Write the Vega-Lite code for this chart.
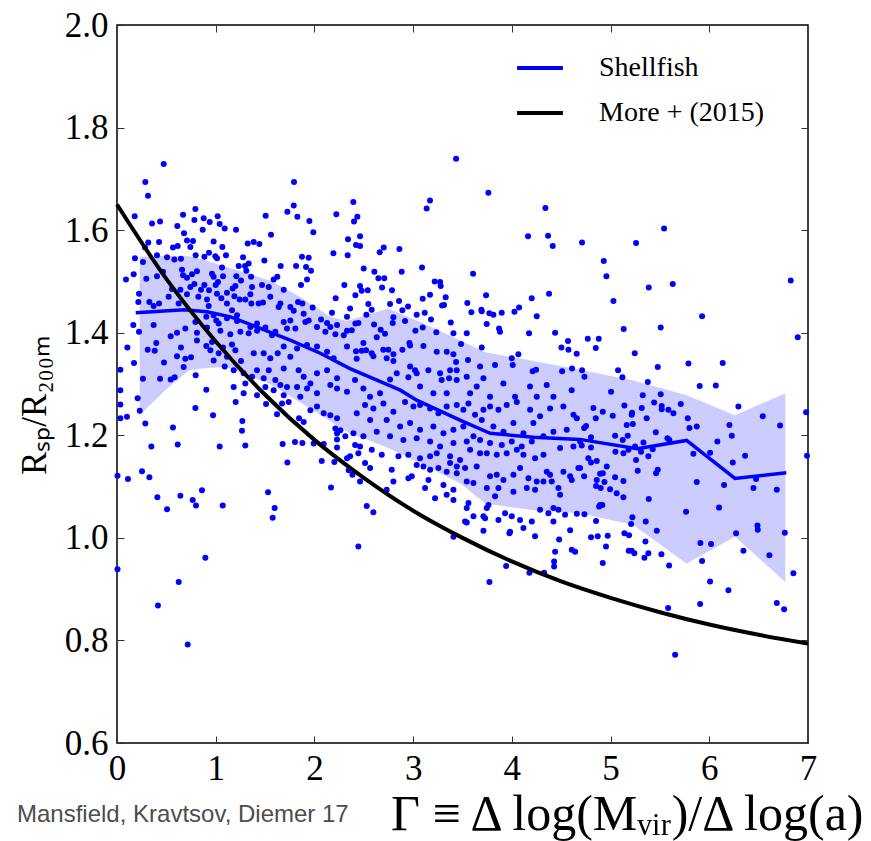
{
"$schema": "https://vega.github.io/schema/vega-lite/v6.json",
"width": 691, "height": 718,
"autosize": {"type": "none"},
"padding": {"left": 117, "top": 25, "right": 63, "bottom": 98},
"background": "white",
"config": {
  "view": {"stroke": "black", "strokeWidth": 1.5},
  "font": "Liberation Serif",
  "axis": {"grid": false, "domain": false, "tickColor": "#333", "tickWidth": 1, "tickSize": -7, "labelFlush": false, "labelFont": "Liberation Serif", "labelFontSize": 35, "labelColor": "black", "titleColor": "black", "titleFont": "Liberation Serif", "titleFontWeight": "normal"}
},
"title": {"text": "Mansfield, Kravtsov, Diemer 17", "orient": "bottom", "anchor": "start", "frame": "bounds", "font": "Liberation Sans", "fontSize": 24, "fontWeight": "normal", "color": "#4d4d4d", "offset": -36},
"datasets": {
"band": [{"g":0.23,"lo":1.239,"hi":1.548},{"g":0.5,"lo":1.29,"hi":1.55},{"g":0.73,"lo":1.327,"hi":1.549},{"g":0.9,"lo":1.331,"hi":1.541},{"g":1.11,"lo":1.333,"hi":1.528},{"g":1.55,"lo":1.3,"hi":1.502},{"g":1.85,"lo":1.265,"hi":1.47},{"g":2.16,"lo":1.228,"hi":1.431},{"g":2.33,"lo":1.207,"hi":1.423},{"g":2.75,"lo":1.175,"hi":1.447},{"g":3.14,"lo":1.139,"hi":1.415},{"g":3.48,"lo":1.106,"hi":1.385},{"g":3.73,"lo":1.067,"hi":1.362},{"g":4.22,"lo":1.054,"hi":1.345},{"g":4.69,"lo":1.048,"hi":1.328},{"g":5.23,"lo":1.025,"hi":1.307},{"g":5.77,"lo":0.95,"hi":1.278},{"g":6.26,"lo":1.002,"hi":1.239},{"g":6.77,"lo":0.914,"hi":1.282}],
"med": [{"g":0.19,"r":1.439,"s":"Shellfish"},{"g":0.68,"r":1.445,"s":"Shellfish"},{"g":0.91,"r":1.441,"s":"Shellfish"},{"g":1.15,"r":1.431,"s":"Shellfish"},{"g":1.42,"r":1.411,"s":"Shellfish"},{"g":1.76,"r":1.385,"s":"Shellfish"},{"g":2.06,"r":1.36,"s":"Shellfish"},{"g":2.36,"r":1.33,"s":"Shellfish"},{"g":2.87,"r":1.288,"s":"Shellfish"},{"g":3.04,"r":1.268,"s":"Shellfish"},{"g":3.48,"r":1.229,"s":"Shellfish"},{"g":3.78,"r":1.204,"s":"Shellfish"},{"g":4.22,"r":1.196,"s":"Shellfish"},{"g":4.69,"r":1.192,"s":"Shellfish"},{"g":5.27,"r":1.174,"s":"Shellfish"},{"g":5.77,"r":1.19,"s":"Shellfish"},{"g":6.26,"r":1.116,"s":"Shellfish"},{"g":6.78,"r":1.127,"s":"Shellfish"}],
"more": [{"g":0,"r":1.65,"s":"More +  (2015)"},{"g":0.5,"r":1.505,"s":"More +  (2015)"},{"g":1,"r":1.383,"s":"More +  (2015)"},{"g":1.5,"r":1.279,"s":"More +  (2015)"},{"g":2,"r":1.191,"s":"More +  (2015)"},{"g":2.5,"r":1.117,"s":"More +  (2015)"},{"g":3,"r":1.053,"s":"More +  (2015)"},{"g":3.5,"r":1.0,"s":"More +  (2015)"},{"g":4,"r":0.954,"s":"More +  (2015)"},{"g":4.5,"r":0.915,"s":"More +  (2015)"},{"g":5,"r":0.883,"s":"More +  (2015)"},{"g":5.5,"r":0.855,"s":"More +  (2015)"},{"g":6,"r":0.831,"s":"More +  (2015)"},{"g":6.5,"r":0.811,"s":"More +  (2015)"},{"g":7,"r":0.794,"s":"More +  (2015)"}],
"pts": [
{"g":0.473,"r":1.729},{"g":0.287,"r":1.694},{"g":0.314,"r":1.667},{"g":1.793,"r":1.694},{"g":1.79,"r":1.648},{"g":1.726,"r":1.636},{"g":1.827,"r":1.626},{"g":0.179,"r":1.627},{"g":0.355,"r":1.613},{"g":0.436,"r":1.617},{"g":0.669,"r":1.63},{"g":0.794,"r":1.641},{"g":0.784,"r":1.62},{"g":0.878,"r":1.623},{"g":0.939,"r":1.616},{"g":1.02,"r":1.627},{"g":1.04,"r":1.612},{"g":1.091,"r":1.603},{"g":0.868,"r":1.601},{"g":0.611,"r":1.608},{"g":0.679,"r":1.594},{"g":0.709,"r":1.58},{"g":0.77,"r":1.579},{"g":0.743,"r":1.567},{"g":0.567,"r":1.566},{"g":0.615,"r":1.569},{"g":0.426,"r":1.577},{"g":0.317,"r":1.576},{"g":0.284,"r":1.566},{"g":1.206,"r":1.601},{"g":0.979,"r":1.578},{"g":1.067,"r":1.567},{"g":1.506,"r":1.628},{"g":1.56,"r":1.591},{"g":1.949,"r":1.618},{"g":1.989,"r":1.596},{"g":2.222,"r":1.631},{"g":2.34,"r":1.582},{"g":2.337,"r":1.551},{"g":2.192,"r":1.555},{"g":1.324,"r":1.574},{"g":1.385,"r":1.577},{"g":1.442,"r":1.573},{"g":1.493,"r":1.541},{"g":0.182,"r":1.545},{"g":0.263,"r":1.538},{"g":0.405,"r":1.551},{"g":0.507,"r":1.547},{"g":0.581,"r":1.543},{"g":0.648,"r":1.544},{"g":0.797,"r":1.551},{"g":0.885,"r":1.548},{"g":0.932,"r":1.556},{"g":0.996,"r":1.549},{"g":1.013,"r":1.545},{"g":1.104,"r":1.551},{"g":1.277,"r":1.547},{"g":1.233,"r":1.53},{"g":1.297,"r":1.53},{"g":1.334,"r":1.535},{"g":1.31,"r":1.521},{"g":1.209,"r":1.51},{"g":1.358,"r":1.509},{"g":1.256,"r":1.502},{"g":1.587,"r":1.504},{"g":1.624,"r":1.509},{"g":1.658,"r":1.53},{"g":1.874,"r":1.548},{"g":1.942,"r":1.546},{"g":1.814,"r":1.53},{"g":1.915,"r":1.528},{"g":1.965,"r":1.521},{"g":1.864,"r":1.493},{"g":1.925,"r":1.504},{"g":2.303,"r":1.493},{"g":2.215,"r":1.467},{"g":2.178,"r":1.439},{"g":0.169,"r":1.514},{"g":0.091,"r":1.504},{"g":0.297,"r":1.505},{"g":0.405,"r":1.51},{"g":0.466,"r":1.519},{"g":0.659,"r":1.523},{"g":0.81,"r":1.52},{"g":0.669,"r":1.512},{"g":0.709,"r":1.507},{"g":0.76,"r":1.514},{"g":0.784,"r":1.495},{"g":0.743,"r":1.489},{"g":0.885,"r":1.493},{"g":0.962,"r":1.515},{"g":0.979,"r":1.509},{"g":1.064,"r":1.527},{"g":1.074,"r":1.51},{"g":1.023,"r":1.499},{"g":1.0,"r":1.493},{"g":1.199,"r":1.491},{"g":1.114,"r":1.478},{"g":1.172,"r":1.486},{"g":0.223,"r":1.476},{"g":0.216,"r":1.46},{"g":0.328,"r":1.46},{"g":0.371,"r":1.452},{"g":0.426,"r":1.457},{"g":0.523,"r":1.47},{"g":0.625,"r":1.457},{"g":0.557,"r":1.485},{"g":0.642,"r":1.484},{"g":0.709,"r":1.475},{"g":0.824,"r":1.47},{"g":0.851,"r":1.484},{"g":0.932,"r":1.483},{"g":0.912,"r":1.465},{"g":0.929,"r":1.452},{"g":1.013,"r":1.476},{"g":1.057,"r":1.467},{"g":1.114,"r":1.457},{"g":1.189,"r":1.471},{"g":1.243,"r":1.465},{"g":1.3,"r":1.465},{"g":1.351,"r":1.475},{"g":1.368,"r":1.489},{"g":1.469,"r":1.493},{"g":1.537,"r":1.489},{"g":1.553,"r":1.47},{"g":1.479,"r":1.459},{"g":1.435,"r":1.457},{"g":1.361,"r":1.457},{"g":1.689,"r":1.484},{"g":1.655,"r":1.457},{"g":1.638,"r":1.45},{"g":1.756,"r":1.45},{"g":1.834,"r":1.46},{"g":1.878,"r":1.457},{"g":1.79,"r":1.443},{"g":1.982,"r":1.449},{"g":1.891,"r":1.437},{"g":2.067,"r":1.426},{"g":2.128,"r":1.419},{"g":2.229,"r":1.415},{"g":2.33,"r":1.431},{"g":2.33,"r":1.404},{"g":0.165,"r":1.415},{"g":0.223,"r":1.402},{"g":0.371,"r":1.415},{"g":0.544,"r":1.393},{"g":0.608,"r":1.4},{"g":0.692,"r":1.408},{"g":0.794,"r":1.421},{"g":0.81,"r":1.4},{"g":0.905,"r":1.431},{"g":0.912,"r":1.41},{"g":1.006,"r":1.424},{"g":0.979,"r":1.434},{"g":1.03,"r":1.418},{"g":1.165,"r":1.444},{"g":1.216,"r":1.434},{"g":1.216,"r":1.423},{"g":1.114,"r":1.428},{"g":1.047,"r":1.404},{"g":1.148,"r":1.397},{"g":1.25,"r":1.402},{"g":1.351,"r":1.411},{"g":1.418,"r":1.418},{"g":1.334,"r":1.399},{"g":1.418,"r":1.404},{"g":1.503,"r":1.41},{"g":1.57,"r":1.395},{"g":1.604,"r":1.402},{"g":1.689,"r":1.421},{"g":1.722,"r":1.408},{"g":1.756,"r":1.424},{"g":1.807,"r":1.408},{"g":1.908,"r":1.421},{"g":1.942,"r":1.424},{"g":2.026,"r":1.411},{"g":2.111,"r":1.402},{"g":2.161,"r":1.411},{"g":2.212,"r":1.397},{"g":2.297,"r":1.395},{"g":0.105,"r":1.371},{"g":0.311,"r":1.367},{"g":0.382,"r":1.365},{"g":0.398,"r":1.38},{"g":0.476,"r":1.342},{"g":0.608,"r":1.354},{"g":0.648,"r":1.371},{"g":0.692,"r":1.349},{"g":0.75,"r":1.352},{"g":0.675,"r":1.333},{"g":0.81,"r":1.385},{"g":0.962,"r":1.382},{"g":0.905,"r":1.374},{"g":0.946,"r":1.366},{"g":1.03,"r":1.36},{"g":1.074,"r":1.371},{"g":1.165,"r":1.377},{"g":1.199,"r":1.366},{"g":1.114,"r":1.353},{"g":1.256,"r":1.345},{"g":1.385,"r":1.36},{"g":1.486,"r":1.36},{"g":1.553,"r":1.35},{"g":1.628,"r":1.36},{"g":1.689,"r":1.373},{"g":1.756,"r":1.353},{"g":1.824,"r":1.369},{"g":1.925,"r":1.376},{"g":2.026,"r":1.373},{"g":2.128,"r":1.363},{"g":2.195,"r":1.35},{"g":2.33,"r":1.373},{"g":0.034,"r":1.328},{"g":0.034,"r":1.288},{"g":0.172,"r":1.341},{"g":0.263,"r":1.31},{"g":0.436,"r":1.31},{"g":0.544,"r":1.309},{"g":0.584,"r":1.313},{"g":0.797,"r":1.317},{"g":0.905,"r":1.289},{"g":0.979,"r":1.346},{"g":1.091,"r":1.334},{"g":1.182,"r":1.327},{"g":1.283,"r":1.321},{"g":1.3,"r":1.301},{"g":1.368,"r":1.314},{"g":1.418,"r":1.327},{"g":1.486,"r":1.311},{"g":1.537,"r":1.327},{"g":1.604,"r":1.308},{"g":1.689,"r":1.33},{"g":1.84,"r":1.327},{"g":1.891,"r":1.314},{"g":1.959,"r":1.301},{"g":2.026,"r":1.321},{"g":2.128,"r":1.327},{"g":2.229,"r":1.311},{"g":1.503,"r":1.294},{"g":1.587,"r":1.288},{"g":1.655,"r":1.298},{"g":1.722,"r":1.294},{"g":1.824,"r":1.294},{"g":1.925,"r":1.291},{"g":2.026,"r":1.282},{"g":2.161,"r":1.298},{"g":2.229,"r":1.291},{"g":2.33,"r":1.285},{"g":0.209,"r":1.272},{"g":1.182,"r":1.294},{"g":1.283,"r":1.282},{"g":1.418,"r":1.278},{"g":1.689,"r":1.278},{"g":1.857,"r":1.275},
{"g":0.034,"r":1.26},{"g":0.034,"r":1.233},{"g":0.101,"r":1.236},{"g":0.23,"r":1.248},{"g":0.287,"r":1.223},{"g":0.567,"r":1.215},{"g":0.794,"r":1.253},{"g":0.973,"r":1.239},{"g":1.202,"r":1.265},{"g":1.27,"r":1.228},{"g":1.266,"r":1.209},{"g":1.3,"r":1.18},{"g":1.04,"r":1.178},{"g":0.615,"r":1.182},{"g":0.348,"r":1.178},{"g":0.005,"r":1.121},{"g":0.111,"r":1.115},{"g":0.253,"r":1.13},{"g":0.328,"r":1.118},{"g":0.409,"r":1.079},{"g":0.507,"r":1.056},{"g":0.642,"r":1.082},{"g":0.767,"r":1.074},{"g":0.8,"r":1.063},{"g":0.861,"r":1.093},{"g":1.071,"r":1.063},{"g":1.53,"r":1.089},{"g":1.597,"r":1.058},{"g":1.577,"r":1.039},{"g":0.005,"r":0.939},{"g":0.895,"r":0.961},{"g":0.625,"r":0.914},{"g":0.415,"r":0.868},{"g":0.716,"r":0.792},{"g":1.51,"r":1.261},{"g":1.621,"r":1.241},{"g":1.678,"r":1.183},{"g":1.726,"r":1.147},{"g":1.803,"r":1.187},{"g":1.878,"r":1.185},{"g":1.844,"r":1.233},{"g":1.891,"r":1.226},{"g":1.993,"r":1.184},{"g":2.094,"r":1.183},{"g":2.074,"r":1.15},{"g":2.202,"r":1.148},{"g":2.168,"r":1.098},{"g":1.672,"r":1.262},{"g":1.739,"r":1.265},{"g":1.959,"r":1.249},{"g":2.026,"r":1.256},{"g":2.094,"r":1.243},{"g":2.161,"r":1.239},{"g":2.229,"r":1.233},{"g":2.212,"r":1.213},{"g":2.229,"r":1.204},{"g":2.263,"r":1.21},{"g":2.313,"r":1.198},{"g":2.229,"r":1.192},{"g":2.229,"r":1.176},{"g":2.33,"r":1.155},{"g":2.347,"r":1.132},
{"g":3.435,"r":1.739},{"g":3.762,"r":1.673},{"g":3.171,"r":1.658},{"g":3.137,"r":1.642},{"g":2.394,"r":1.655},{"g":2.435,"r":1.626},{"g":2.401,"r":1.617},{"g":2.462,"r":1.588},{"g":4.34,"r":1.643},{"g":4.164,"r":1.588},{"g":4.367,"r":1.589},{"g":4.414,"r":1.569},{"g":2.421,"r":1.571},{"g":2.462,"r":1.569},{"g":2.702,"r":1.566},{"g":2.661,"r":1.557},{"g":2.861,"r":1.563},{"g":2.499,"r":1.525},{"g":2.607,"r":1.519},{"g":2.884,"r":1.519},{"g":3.09,"r":1.527},{"g":3.607,"r":1.515},{"g":2.648,"r":1.506},{"g":2.708,"r":1.506},{"g":2.462,"r":1.491},{"g":2.685,"r":1.488},{"g":2.786,"r":1.483},{"g":2.479,"r":1.482},{"g":2.415,"r":1.473},{"g":2.54,"r":1.483},{"g":3.218,"r":1.5},{"g":3.273,"r":1.499},{"g":3.279,"r":1.491},{"g":3.171,"r":1.474},{"g":3.097,"r":1.466},{"g":3.33,"r":1.469},{"g":3.313,"r":1.454},{"g":3.293,"r":1.453},{"g":3.739,"r":1.473},{"g":4.201,"r":1.467},{"g":4.377,"r":1.476},{"g":2.546,"r":1.456},{"g":2.766,"r":1.456},{"g":2.857,"r":1.462},{"g":2.948,"r":1.451},{"g":2.891,"r":1.444},{"g":2.58,"r":1.445},{"g":2.361,"r":1.447},{"g":2.526,"r":1.435},{"g":3.549,"r":1.458},{"g":3.59,"r":1.44},{"g":3.691,"r":1.445},{"g":3.695,"r":1.442},{"g":3.772,"r":1.438},{"g":3.813,"r":1.435},{"g":3.897,"r":1.439},{"g":4.026,"r":1.441},{"g":4.073,"r":1.449},{"g":4.252,"r":1.432},{"g":3.036,"r":1.435},{"g":3.117,"r":1.439},{"g":3.181,"r":1.426},{"g":2.8,"r":1.43},{"g":2.793,"r":1.419},{"g":2.918,"r":1.423},{"g":3.381,"r":1.42},{"g":3.745,"r":1.417},{"g":3.87,"r":1.408},{"g":3.88,"r":1.402},{"g":4.174,"r":1.399},{"g":4.438,"r":1.4},{"g":3.543,"r":1.399},{"g":3.408,"r":1.399},{"g":3.235,"r":1.401},{"g":3.097,"r":1.41},{"g":3.023,"r":1.404},{"g":2.715,"r":1.398},{"g":2.671,"r":1.406},{"g":2.631,"r":1.391},{"g":2.415,"r":1.418},{"g":2.378,"r":1.405},{"g":2.445,"r":1.419},{"g":2.604,"r":1.416},{"g":2.496,"r":1.38},{"g":2.479,"r":1.365},{"g":2.523,"r":1.366},{"g":2.421,"r":1.364},{"g":2.58,"r":1.36},{"g":2.428,"r":1.349},{"g":2.597,"r":1.354},{"g":2.698,"r":1.367},{"g":2.749,"r":1.367},{"g":2.8,"r":1.358},{"g":2.8,"r":1.345},{"g":2.732,"r":1.35},{"g":2.891,"r":1.367},{"g":2.962,"r":1.38},{"g":2.969,"r":1.375},{"g":3.104,"r":1.374},{"g":3.239,"r":1.363},{"g":3.34,"r":1.363},{"g":3.408,"r":1.358},{"g":3.485,"r":1.378},{"g":3.695,"r":1.371},{"g":3.435,"r":1.343},{"g":3.556,"r":1.347},{"g":3.678,"r":1.334},{"g":3.83,"r":1.337},{"g":3.999,"r":1.35},{"g":4.066,"r":1.358},{"g":4.009,"r":1.337},{"g":4.211,"r":1.325},{"g":4.245,"r":1.328},{"g":4.502,"r":1.371},{"g":4.569,"r":1.384},{"g":4.573,"r":1.367},{"g":4.657,"r":1.359},{"g":4.509,"r":1.325},{"g":4.61,"r":1.33},{"g":2.411,"r":1.308},{"g":2.496,"r":1.291},{"g":2.563,"r":1.275},{"g":2.665,"r":1.282},{"g":2.766,"r":1.309},{"g":2.834,"r":1.321},{"g":2.952,"r":1.313},{"g":2.969,"r":1.334},{"g":3.019,"r":1.327},{"g":3.036,"r":1.321},{"g":3.154,"r":1.327},{"g":3.273,"r":1.321},{"g":3.289,"r":1.308},{"g":3.374,"r":1.327},{"g":3.364,"r":1.311},{"g":3.441,"r":1.327},{"g":3.441,"r":1.308},{"g":3.543,"r":1.314},{"g":3.644,"r":1.295},{"g":3.712,"r":1.311},{"g":3.577,"r":1.282},{"g":3.779,"r":1.275},{"g":3.914,"r":1.301},{"g":4.032,"r":1.275},{"g":4.184,"r":1.295},{"g":4.252,"r":1.275},{"g":4.353,"r":1.298},{"g":4.421,"r":1.275},{"g":4.606,"r":1.288},{"g":3.205,"r":1.282},{"g":3.34,"r":1.282},{"g":3.07,"r":1.295},
{"g":2.513,"r":1.259},{"g":2.597,"r":1.252},{"g":2.699,"r":1.262},{"g":2.8,"r":1.246},{"g":2.918,"r":1.265},{"g":3.003,"r":1.256},{"g":3.07,"r":1.259},{"g":3.172,"r":1.252},{"g":3.256,"r":1.243},{"g":3.34,"r":1.256},{"g":3.442,"r":1.259},{"g":3.509,"r":1.25},{"g":3.56,"r":1.262},{"g":3.627,"r":1.24},{"g":3.712,"r":1.25},{"g":3.779,"r":1.256},{"g":3.864,"r":1.25},{"g":3.948,"r":1.259},{"g":4.05,"r":1.265},{"g":4.185,"r":1.25},{"g":4.286,"r":1.237},{"g":4.387,"r":1.252},{"g":4.522,"r":1.256},{"g":4.624,"r":1.24},{"g":2.429,"r":1.243},{"g":2.564,"r":1.23},{"g":2.732,"r":1.23},{"g":2.868,"r":1.217},{"g":2.969,"r":1.224},{"g":3.07,"r":1.211},{"g":3.205,"r":1.217},{"g":3.307,"r":1.204},{"g":3.408,"r":1.211},{"g":3.509,"r":1.217},{"g":3.611,"r":1.198},{"g":3.695,"r":1.23},{"g":3.813,"r":1.217},{"g":3.915,"r":1.207},{"g":4.016,"r":1.224},{"g":4.117,"r":1.204},{"g":4.218,"r":1.224},{"g":4.32,"r":1.198},{"g":4.421,"r":1.207},{"g":4.556,"r":1.211},{"g":4.658,"r":1.233},{"g":2.395,"r":1.204},{"g":2.496,"r":1.198},{"g":2.631,"r":1.207},{"g":2.766,"r":1.198},{"g":2.901,"r":1.191},{"g":3.036,"r":1.194},{"g":3.172,"r":1.188},{"g":3.273,"r":1.178},{"g":3.408,"r":1.185},{"g":3.543,"r":1.188},{"g":3.678,"r":1.191},{"g":3.779,"r":1.185},{"g":3.898,"r":1.181},{"g":3.999,"r":1.188},{"g":4.1,"r":1.178},{"g":4.202,"r":1.188},{"g":2.412,"r":1.181},{"g":2.462,"r":1.178},{"g":2.361,"r":1.159},{"g":2.445,"r":1.165},{"g":2.581,"r":1.172},{"g":2.682,"r":1.162},{"g":2.851,"r":1.159},{"g":2.952,"r":1.162},{"g":3.07,"r":1.155},{"g":3.172,"r":1.159},{"g":3.239,"r":1.165},{"g":3.374,"r":1.159},{"g":3.475,"r":1.152},{"g":3.577,"r":1.172},{"g":3.678,"r":1.165},{"g":3.746,"r":1.165},{"g":3.847,"r":1.162},{"g":3.948,"r":1.165},{"g":4.05,"r":1.172},{"g":4.117,"r":1.162},{"g":4.235,"r":1.155},{"g":4.32,"r":1.162},{"g":4.489,"r":1.175},{"g":4.624,"r":1.178},{"g":4.691,"r":1.188},{"g":2.513,"r":1.146},{"g":2.564,"r":1.136},{"g":2.783,"r":1.133},{"g":2.986,"r":1.12},{"g":3.036,"r":1.142},{"g":3.104,"r":1.139},{"g":3.172,"r":1.133},{"g":3.256,"r":1.136},{"g":3.34,"r":1.129},{"g":3.442,"r":1.139},{"g":3.374,"r":1.146},{"g":3.442,"r":1.126},{"g":3.526,"r":1.136},{"g":3.644,"r":1.139},{"g":3.779,"r":1.12},{"g":3.847,"r":1.123},{"g":3.915,"r":1.113},{"g":4.016,"r":1.123},{"g":4.083,"r":1.136},{"g":4.168,"r":1.116},{"g":4.252,"r":1.11},{"g":4.354,"r":1.129},{"g":4.387,"r":1.123},{"g":4.522,"r":1.129},{"g":4.607,"r":1.113},{"g":4.674,"r":1.136},{"g":2.462,"r":1.11},{"g":2.8,"r":1.11},{"g":2.952,"r":1.116},{"g":3.155,"r":1.113},{"g":3.307,"r":1.103},{"g":3.408,"r":1.094},{"g":3.543,"r":1.11},{"g":3.611,"r":1.107},{"g":3.746,"r":1.097},{"g":3.864,"r":1.097},{"g":4.016,"r":1.09},{"g":4.151,"r":1.097},{"g":4.235,"r":1.094},{"g":4.32,"r":1.11},{"g":4.404,"r":1.11},{"g":4.472,"r":1.097},{"g":4.59,"r":1.12},{"g":2.732,"r":1.094},{"g":3.121,"r":1.097},{"g":3.222,"r":1.077},{"g":3.34,"r":1.084},{"g":3.408,"r":1.074},{"g":3.83,"r":1.081},{"g":4.489,"r":1.084},{"g":2.385,"r":1.123},{"g":3.543,"r":1.058},{"g":3.56,"r":1.068},{"g":3.611,"r":1.042},{"g":3.526,"r":1.032},{"g":3.543,"r":1.03},{"g":3.712,"r":1.042},{"g":3.729,"r":1.038},{"g":3.746,"r":1.058},{"g":3.763,"r":1.064},{"g":3.864,"r":1.035},{"g":3.931,"r":1.048},{"g":3.999,"r":1.042},{"g":4.083,"r":1.035},{"g":4.202,"r":1.032},{"g":4.286,"r":1.055},{"g":4.37,"r":1.048},{"g":4.421,"r":1.058},{"g":4.472,"r":1.055},{"g":4.539,"r":1.045},{"g":4.658,"r":1.047},{"g":4.421,"r":1.032},{"g":3.982,"r":1.012},{"g":3.975,"r":1.009},{"g":4.117,"r":1.019},{"g":4.235,"r":1.003},{"g":3.712,"r":1.014},{"g":4.479,"r":0.997},{"g":4.59,"r":1.015},{"g":4.607,"r":0.977},{"g":4.641,"r":0.973},{"g":4.438,"r":0.973},{"g":4.428,"r":0.954},{"g":4.428,"r":0.944},{"g":3.942,"r":0.945},{"g":4.178,"r":0.932},{"g":4.327,"r":0.932},{"g":3.773,"r":0.914},{"g":2.445,"r":0.983},{"g":2.53,"r":1.062},{"g":2.597,"r":1.05},{"g":3.408,"r":1.002},
{"g":4.826,"r":1.253},{"g":4.921,"r":1.246},{"g":5.14,"r":1.258},{"g":5.218,"r":1.244},{"g":5.214,"r":1.24},{"g":5.316,"r":1.253},{"g":5.441,"r":1.264},{"g":5.518,"r":1.257},{"g":5.518,"r":1.251},{"g":5.586,"r":1.25},{"g":5.637,"r":1.243},{"g":5.711,"r":1.261},{"g":5.022,"r":1.238},{"g":4.85,"r":1.233},{"g":4.752,"r":1.218},{"g":4.732,"r":1.214},{"g":5.164,"r":1.22},{"g":5.225,"r":1.222},{"g":5.366,"r":1.233},{"g":5.782,"r":1.233},{"g":5.873,"r":1.217},{"g":5.799,"r":1.214},{"g":6.204,"r":1.22},{"g":6.228,"r":1.199},{"g":6.542,"r":1.237},{"g":6.717,"r":1.219},{"g":6.295,"r":1.256},{"g":6.981,"r":1.245},{"g":5.046,"r":1.199},{"g":5.123,"r":1.191},{"g":5.174,"r":1.199},{"g":4.802,"r":1.196},{"g":4.708,"r":1.18},{"g":4.802,"r":1.176},{"g":5.049,"r":1.168},{"g":5.13,"r":1.165},{"g":5.181,"r":1.172},{"g":5.248,"r":1.178},{"g":5.333,"r":1.186},{"g":5.309,"r":1.168},{"g":5.383,"r":1.159},{"g":5.427,"r":1.173},{"g":5.458,"r":1.206},{"g":5.576,"r":1.194},{"g":5.596,"r":1.191},{"g":6.082,"r":1.188},{"g":6.008,"r":1.166},{"g":5.839,"r":1.164},{"g":6.238,"r":1.147},{"g":6.363,"r":1.16},{"g":6.99,"r":1.16},{"g":4.775,"r":1.155},{"g":4.86,"r":1.15},{"g":4.802,"r":1.147},{"g":4.961,"r":1.139},{"g":4.691,"r":1.136},{"g":4.732,"r":1.12},{"g":4.921,"r":1.126},{"g":4.894,"r":1.125},{"g":4.86,"r":1.113},{"g":4.938,"r":1.109},{"g":4.853,"r":1.101},{"g":4.9,"r":1.097},{"g":4.995,"r":1.095},{"g":5.046,"r":1.118},{"g":5.13,"r":1.111},{"g":5.062,"r":1.087},{"g":5.13,"r":1.079},{"g":5.258,"r":1.152},{"g":5.275,"r":1.131},{"g":5.461,"r":1.126},{"g":5.478,"r":1.133},{"g":5.387,"r":1.076},{"g":5.873,"r":1.109},{"g":6.15,"r":1.103},{"g":6.447,"r":1.097},{"g":6.474,"r":1.115},{"g":6.684,"r":1.094},{"g":4.894,"r":1.064},{"g":4.884,"r":1.061},{"g":4.917,"r":1.064},{"g":4.735,"r":1.046},{"g":6.099,"r":1.059},{"g":5.765,"r":1.051},{"g":5.221,"r":1.04},{"g":5.208,"r":1.027},{"g":5.356,"r":1.032},{"g":4.853,"r":1.033},{"g":5.468,"r":1.014},{"g":5.14,"r":1.009},{"g":5.187,"r":1.005},{"g":4.802,"r":1.001},{"g":4.87,"r":1.003},{"g":4.971,"r":1.004},{"g":4.954,"r":0.983},{"g":5.184,"r":0.975},{"g":5.214,"r":0.975},{"g":5.241,"r":0.97},{"g":5.353,"r":0.993},{"g":5.383,"r":0.97},{"g":5.343,"r":0.961},{"g":5.515,"r":0.968},{"g":4.921,"r":0.951},{"g":5.593,"r":0.946},{"g":5.91,"r":0.99},{"g":6.018,"r":0.988},{"g":6.272,"r":1.009},{"g":6.346,"r":0.975},{"g":6.488,"r":1.024},{"g":6.491,"r":1.016},{"g":6.765,"r":1.01},{"g":6.609,"r":0.966},{"g":5.927,"r":0.955},{"g":6.008,"r":0.915},{"g":6.194,"r":0.898},{"g":6.852,"r":0.931},{"g":5.583,"r":0.863},{"g":5.907,"r":0.871},{"g":6.684,"r":0.873},{"g":6.758,"r":0.861},{"g":5.654,"r":0.772},
{"g":4.711,"r":1.576},{"g":5.258,"r":1.575},{"g":5.542,"r":1.603},{"g":4.931,"r":1.54},{"g":4.958,"r":1.51},{"g":5.387,"r":1.488},{"g":5.63,"r":1.495},{"g":5.029,"r":1.462},{"g":5.927,"r":1.432},{"g":5.133,"r":1.407},{"g":5.508,"r":1.41},{"g":4.769,"r":1.388},{"g":4.88,"r":1.388},{"g":4.85,"r":1.37},{"g":5.245,"r":1.36},{"g":4.711,"r":1.327},{"g":5.076,"r":1.327},{"g":4.735,"r":1.314},{"g":5.12,"r":1.313},{"g":5.478,"r":1.333},{"g":5.789,"r":1.34},{"g":6.136,"r":1.341},{"g":5.377,"r":1.304},{"g":5.005,"r":1.285},{"g":5.326,"r":1.278},{"g":5.508,"r":1.28},{"g":5.903,"r":1.296},{"g":6.066,"r":1.297},{"g":6.825,"r":1.502},{"g":6.896,"r":1.391}
]
},
"layer": [
  {
    "encoding": {
      "x": {"field": "g", "type": "quantitative", "scale": {"domain": [0, 7], "nice": false}, "axis": {"orient": "bottom", "values": [0,1,2,3,4,5,6,7], "labelPadding": 15, "title": "Γ ≡ Δ log(Mᵥᵢᵣ)/Δ log(a)", "titleFontSize": 50, "titleAnchor": "end", "titleAlign": "right", "titleBaseline": "alphabetic", "titleX": 746, "titleY": 86}},
      "y": {"field": "r", "type": "quantitative", "scale": {"domain": [0.6, 2.0], "nice": false, "zero": false}, "axis": {"orient": "left", "values": [0.6,0.8,1.0,1.2,1.4,1.6,1.8,2.0], "format": ".1f", "labelPadding": 16, "title": "Rₛₚ/R₂₀₀ₘ", "titleFontSize": 35, "titleAngle": -90, "titleAlign": "center", "titleBaseline": "middle", "titleX": -83, "titleY": 380}}
    },
    "layer": [
      {"data": {"name": "band"}, "mark": {"type": "area", "color": "#ccccff", "opacity": 1}, "encoding": {"y": {"field": "lo", "type": "quantitative"}, "y2": {"field": "hi"}}},
      {"data": {"name": "pts"}, "mark": {"type": "circle", "size": 36, "color": "#0000ff", "opacity": 1}},
      {"data": {"name": "med"}, "mark": {"type": "line", "strokeWidth": 3.5}, "encoding": {"color": {"field": "s", "type": "nominal", "scale": {"domain": ["Shellfish", "More +  (2015)"], "range": ["#0000ff", "#000000"]}, "legend": {"orient": "none", "legendX": 398, "legendY": 18, "title": null, "symbolType": "stroke", "symbolSize": 2100, "symbolStrokeWidth": 4, "labelFont": "Liberation Serif", "labelFontSize": 28, "labelColor": "black", "labelOffset": 34, "labelLimit": 0, "rowPadding": 6, "padding": 0}}}}
    ]
  },
  {
    "data": {"name": "more"},
    "mark": {"type": "line", "strokeWidth": 4, "interpolate": "monotone"},
    "encoding": {
      "x": {"field": "g", "type": "quantitative", "scale": {"domain": [0, 7], "nice": false}, "axis": {"orient": "top", "values": [1,2,3,4,5,6], "labels": false, "title": null}},
      "y": {"field": "r", "type": "quantitative", "scale": {"domain": [0.6, 2.0], "nice": false, "zero": false}, "axis": {"orient": "right", "values": [0.8,1.0,1.2,1.4,1.6,1.8], "labels": false, "title": null}},
      "color": {"field": "s", "type": "nominal"}
    }
  }
],
"resolve": {"axis": {"x": "independent", "y": "independent"}}
}
